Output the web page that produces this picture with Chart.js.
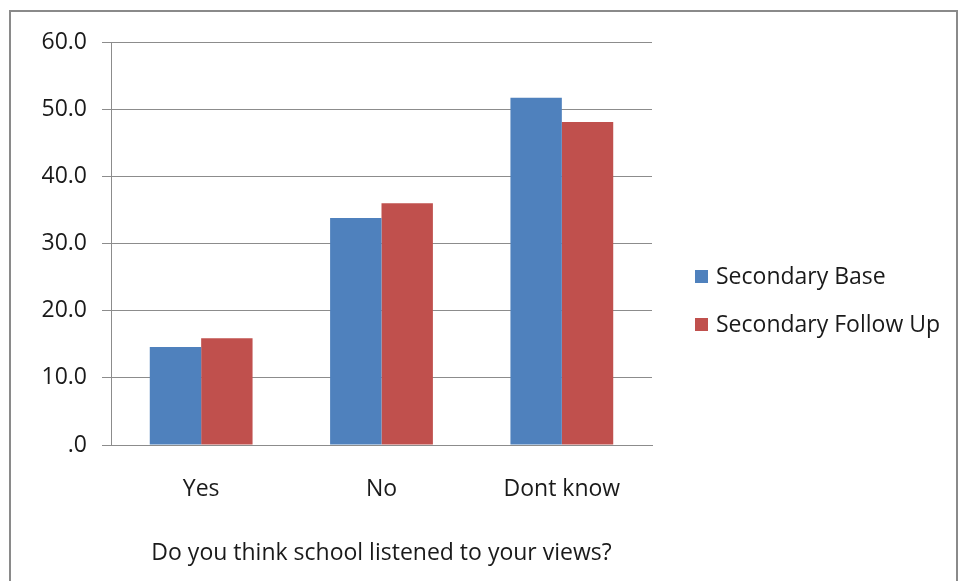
<!DOCTYPE html>
<html>
<head>
<meta charset="utf-8">
<script src="https://cdn.jsdelivr.net/npm/chart.js@4/dist/chart.umd.min.js"></script>
<style>
  html, body { margin: 0; padding: 0; background: #fff; }
  #wrap { width: 959px; height: 581px; }
</style>
</head>
<body>
<div id="wrap"><canvas id="chart" width="959" height="581"></canvas></div>
<script>
// ---- data ----
const categories = ["Yes", "No", "Dont know"];
const seriesNames = ["Secondary Base", "Secondary Follow Up"];
const baseValues = [14.6, 33.8, 51.7];
const followUpValues = [15.9, 36.0, 48.1];
const yTickLabels = [".0", "10.0", "20.0", "30.0", "40.0", "50.0", "60.0"];
const xTitle = "Do you think school listened to your views?";

const FONT = "'Open Sans', sans-serif";
const TEXT = "#1a1a1a";
const GRID = "#8c8c8c";

// outer frame around the chart
const framePlugin = {
    id: "frame",
    beforeDraw(c) {
        const ctx = c.ctx;
        ctx.save();
        ctx.fillStyle = "#fff";
        ctx.fillRect(0, 0, c.width, c.height);
        ctx.strokeStyle = "#8a8a8a";
        ctx.lineWidth = 2;
        ctx.strokeRect(10, 11, 947, 620);
        ctx.restore();
    }
};

// legend on the right, built from the datasets
const legendPlugin = {
    id: "sideLegend",
    afterDraw(c) {
        const ctx = c.ctx;
        ctx.save();
        ctx.font = "23px " + FONT;
        ctx.textBaseline = "middle";
        c.data.datasets.forEach((ds, i) => {
            const y = 277 + i * 48;
            ctx.fillStyle = ds.backgroundColor;
            ctx.fillRect(695, y - 7, 13, 13);
            ctx.fillStyle = TEXT;
            ctx.fillText(ds.label, 716, y);
        });
        ctx.restore();
    }
};

new Chart(document.getElementById("chart"), {
    type: "bar",
    data: {
        labels: categories,
        datasets: [
            { label: seriesNames[0], data: baseValues, backgroundColor: "#4F81BD" },
            { label: seriesNames[1], data: followUpValues, backgroundColor: "#C0504D" }
        ]
    },
    options: {
        responsive: false,
        animation: false,
        layout: { padding: { left: 10, right: 307, top: 42, bottom: 0 } },
        datasets: { bar: { categoryPercentage: 0.57, barPercentage: 1.0 } },
        plugins: {
            legend: { display: false },
            tooltip: { enabled: false }
        },
        scales: {
            x: {
                grid: { display: false },
                border: { display: true, color: GRID, width: 1 },
                ticks: { color: TEXT, font: { family: FONT, size: 23 }, padding: 23 },
                title: {
                    display: true, text: xTitle, color: TEXT,
                    font: { family: FONT, size: 23 }, padding: { top: 0, bottom: 14 }
                },
                afterFit(s) { s.height = 136; }
            },
            y: {
                min: 0, max: 60,
                ticks: {
                    stepSize: 10, color: TEXT, font: { family: FONT, size: 23 }, padding: 15,
                    callback: (v, i) => yTickLabels[i]
                },
                grid: { color: GRID, lineWidth: 1, tickLength: 9, drawTicks: true },
                border: { display: true, color: GRID, width: 1 },
                afterFit(s) { s.width = 101; }
            }
        }
    },
    plugins: [framePlugin, legendPlugin]
});
</script>
</body>
</html>
